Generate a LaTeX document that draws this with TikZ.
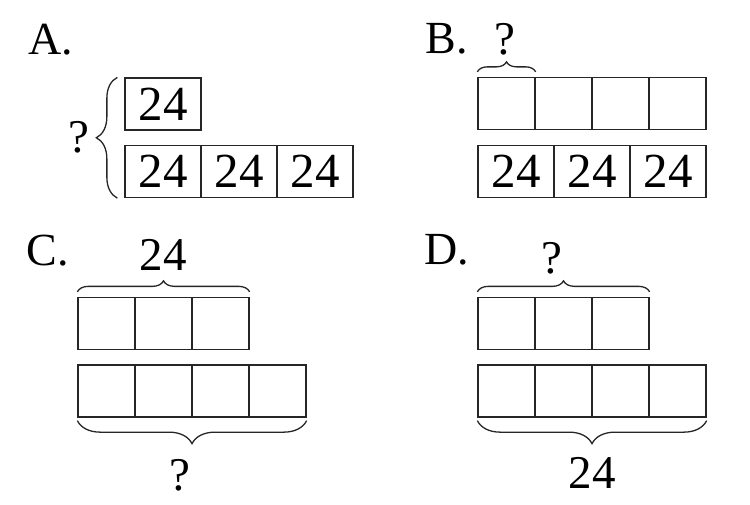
\documentclass[tikz,border=0pt]{standalone}
\usepackage{fontspec}
\setmainfont{Liberation Serif}
\usetikzlibrary{decorations.pathreplacing}
\begin{document}
\begin{tikzpicture}[x=1pt,y=-1pt,
  ink/.style={line width=1.3pt, draw=black!85},
  cellw/.style={ink, minimum width=76pt, minimum height=52pt, inner sep=0pt, font=\fontsize{49}{49}\selectfont},
  cellq/.style={ink, minimum width=57pt, minimum height=52pt, inner sep=0pt},
  lbl/.style={inner sep=0pt, font=\fontsize{47}{47}\selectfont},
  tag/.style={inner sep=0pt, font=\fontsize{46}{46}\selectfont},
  curly/.style={ink, decorate, decoration={brace, amplitude=#1}},
]
\useasboundingbox (0,0) rectangle (750,504);
% Panel A
\node[tag] (tA) at (51,40) {A.};
\node[cellw] (a1) at (163,104) {24};
\node[cellw] (a2) at (163,171.5) {24};
\node[cellw] (a3) at (239,171.5) {24};
\node[cellw] (a4) at (315,171.5) {24};
\draw[curly=21pt] ([xshift=-7pt]a2.south west) -- ([xshift=-7pt]a1.north west);
\node[lbl] (qA) at (79,137) {?};
% Panel B
\node[tag] (tB) at (447,39) {B.};
\node[cellq] (b1) at (506.5,103.5) {};
\node[cellq] (b2) at (563.5,103.5) {};
\node[cellq] (b3) at (620.5,103.5) {};
\node[cellq] (b4) at (677.5,103.5) {};
\node[cellw] (b5) at (516,171.5) {24};
\node[cellw] (b6) at (592,171.5) {24};
\node[cellw] (b7) at (668,171.5) {24};
\draw[curly=10pt] ([yshift=5pt]b1.north west) -- ([yshift=5pt]b1.north east);
\node[lbl] (qB) at (505,39) {?};
% Panel C
\node[tag] (tC) at (48,251) {C.};
\node[cellq] (c1) at (106.5,323.5) {};
\node[cellq] (c2) at (163.5,323.5) {};
\node[cellq] (c3) at (220.5,323.5) {};
\node[cellq] (c4) at (106.5,391) {};
\node[cellq] (c5) at (163.5,391) {};
\node[cellq] (c6) at (220.5,391) {};
\node[cellq] (c7) at (277.5,391) {};
\draw[curly=11pt] ([yshift=5pt]c1.north west) -- ([yshift=5pt]c3.north east);
\draw[curly=23pt] ([yshift=-3pt]c7.south east) -- ([yshift=-3pt]c4.south west);
\node[lbl] (nC) at (163,255) {24};
\node[lbl] (qC) at (180,475) {?};
% Panel D
\node[tag] (tD) at (447,250) {D.};
\node[cellq] (d1) at (506.5,323.5) {};
\node[cellq] (d2) at (563.5,323.5) {};
\node[cellq] (d3) at (620.5,323.5) {};
\node[cellq] (d4) at (506.5,391) {};
\node[cellq] (d5) at (563.5,391) {};
\node[cellq] (d6) at (620.5,391) {};
\node[cellq] (d7) at (677.5,391) {};
\draw[curly=11pt] ([yshift=5pt]d1.north west) -- ([yshift=5pt]d3.north east);
\draw[curly=23pt] ([yshift=-3pt]d7.south east) -- ([yshift=-3pt]d4.south west);
\node[lbl] (qD) at (552,258) {?};
\node[lbl] (nD) at (592,473) {24};
\end{tikzpicture}
\end{document}
